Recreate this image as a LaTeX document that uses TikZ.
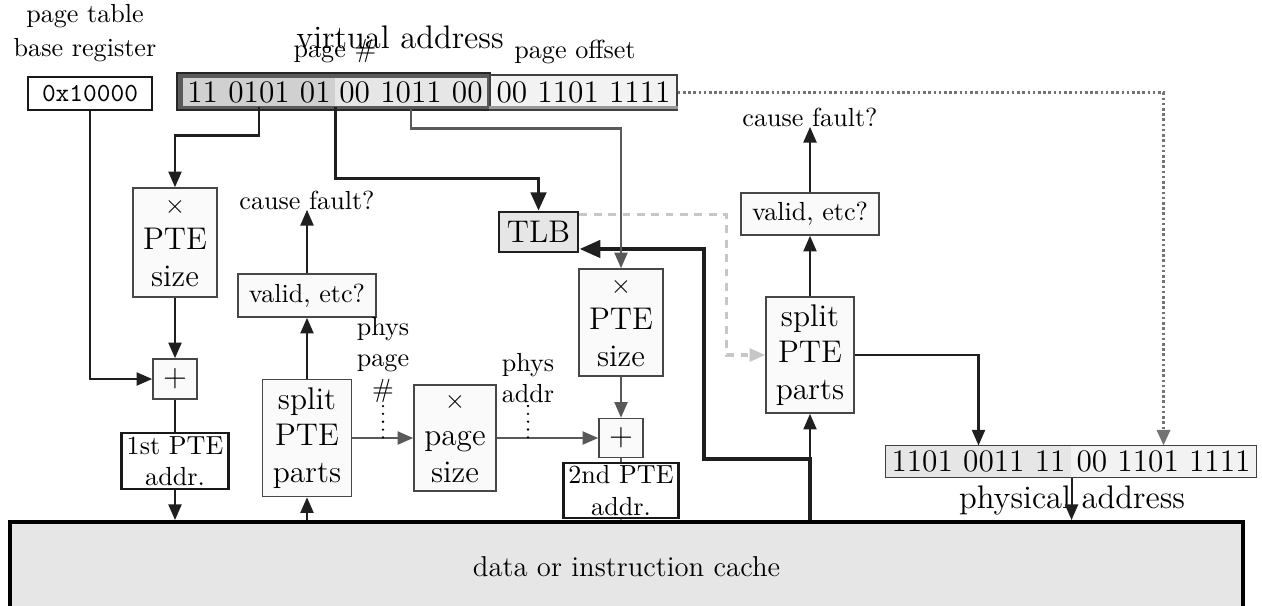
\documentclass[tikz,border=0pt]{standalone}
\usetikzlibrary{arrows.meta,calc}
\newdimen\pxu \pxu=0.383pt
\definecolor{boxfill}{HTML}{FAFAFA}
\definecolor{cachefill}{HTML}{E6E6E6}
\definecolor{segA}{HTML}{D0D0D0}
\definecolor{segB}{HTML}{E6E6E6}
\definecolor{segC}{HTML}{F2F2F2}
\definecolor{pnframe}{HTML}{5A5A5A}
\begin{document}
\begin{tikzpicture}[x=0.383pt,y=-0.383pt,
  sz/.style 2 args={minimum width=#1*\pxu, minimum height=#2*\pxu},
  box/.style={draw=black!72, fill=boxfill, line width=0.6pt, inner sep=0pt, align=center},
  bbox/.style={draw=black!90, fill=white, line width=1.1pt, inner sep=0pt, align=center},
  lbl/.style={inner sep=0pt, align=center},
  tip/.style={-{Triangle[length=6pt,width=5pt]}},
  arr/.style={draw=black!88, line width=0.8pt, tip},
  garr/.style={draw=black!65, line width=0.8pt, tip},
  gline/.style={draw=black!65, line width=0.6pt},
  vatlb/.style={draw=black!88, line width=1.1pt, -{Triangle[length=7pt,width=6pt]}},
  cachetlb/.style={draw=black!88, line width=1.7pt, -{Triangle[length=8pt,width=6.5pt]}},
  dashedarr/.style={draw=black!22, line width=1.2pt, dash pattern=on 3pt off 2.5pt, tip},
  dottedarr/.style={draw=black!55, line width=1.3pt, dash pattern=on 1pt off 1pt, tip},
  dotline/.style={draw=black, line width=1pt, dash pattern=on 0pt off 3pt, line cap=round},
]
\clip (0,0) rectangle (1262,605);

% labels
\node[lbl] (ptbrlbl) at (85,33) {page table\\[1pt]base register};
\node[lbl, font=\fontsize{12.5}{15}\selectfont] (valbl) at (400,37) {virtual address};
\node[lbl] (pnlbl) at (335,51) {page \#};
\node[lbl] (polbl) at (575,52) {page offset};

% registers
\node[bbox, sz={124}{33}, font=\ttfamily] (reg) at (90,93.5) {0x10000};
\node[draw=black!85, fill=pnframe, line width=1.1pt, inner sep=0pt, sz={313}{37}] (pn) at (333.5,91.5) {};
\node[fill=segA, inner sep=0pt, sz={152}{28}, font=\large] (seg1) at (259,92) {11 0101 01};
\node[fill=segB, inner sep=0pt, sz={152}{28}, font=\large] (seg2) at (411,92) {00 1011 00};
\node[draw=black!75, fill=segC, line width=0.5pt, inner sep=0pt, sz={187}{35}, font=\large] (pgoff) at (583.5,92.5) {00 1101 1111};
\draw[black!40, line width=0.8pt] ([yshift=1.2pt]pgoff.south west) -- ([yshift=1.2pt]pgoff.south east);

% cache
\node[draw=black, fill=cachefill, line width=1.5pt, inner sep=0pt, sz={1233}{90}, font=\fontsize{11}{13}\selectfont] (cache) at (626.5,567) {data or instruction cache};

% first level
\node[box, sz={84}{109}, font=\large] (pte1) at (175,242.5) {{\normalsize$\times$}\\PTE\\size};
\node[box, sz={44}{40}, font=\large] (plus1) at (175,379) {$+$};
\node[bbox, sz={107}{56}] (first) at (175,461) {1st PTE\\addr.};
\node[lbl] (cf1) at (307,200) {cause fault?};
\node[box, sz={138}{43}] (valid1) at (307,295.5) {valid, etc?};
\node[box, sz={89}{117}, font=\large] (split1) at (307,438) {split\\PTE\\parts};
\node[lbl] (ppn) at (383,360) {phys\\page\\\#};
\node[box, sz={82}{106}, font=\large] (pagesz) at (455,438) {{\normalsize$\times$}\\page\\size};
\node[lbl] (pa) at (528,378) {phys\\addr};

% second level
\node[box, sz={84}{107}, font=\large] (pte2) at (621,322.5) {{\normalsize$\times$}\\PTE\\size};
\node[box, sz={44}{39}, font=\large] (plus2) at (621,438) {$+$};
\node[bbox, sz={115}{55}] (second) at (621,490.5) {2nd PTE\\addr.};
\node[draw=black!88, fill=cachefill, line width=1.1pt, inner sep=0pt, sz={79}{40}, font=\large] (tlb) at (538.5,232) {TLB};

\node[lbl] (cf2) at (810,117) {cause fault?};
\node[box, sz={138}{42}] (valid2) at (810,214) {valid, etc?};
\node[box, sz={88}{116}, font=\large] (split2) at (810,355) {split\\PTE\\parts};

% physical address
\node[fill=segB, inner sep=0pt, sz={185}{31}, font=\large] (physL) at (978.5,461.5) {1101 0011 11};
\node[fill=segC, inner sep=0pt, sz={185}{31}, font=\large] (physR) at (1163.5,461.5) {00 1101 1111};
\draw[black!75, line width=0.6pt] (physL.north west) rectangle (physR.south east);
\node[lbl, font=\fontsize{12.5}{15}\selectfont] (phlbl) at (1072,500) {physical address};

% connectors
\draw[cachetlb] (split2.south |- cache.north) -- ++(0,-61) -- ++(-106,0) |- ([yshift=-6.5pt]tlb.east);
\draw[vatlb] (seg1.south east) -- ++(0,72) -| (tlb.north);
\draw[arr] (seg1.south) -- ++(0,29) -| (pte1.north);
\draw[garr] (seg2.south) -- ++(0,22) -| (pte2.north);
\draw[arr] (reg.south) |- (plus1.west);
\draw[arr] (pte1.south) -- (plus1.north);
\draw[draw=black!88, line width=0.8pt] (plus1.south) -- (first.north);
\draw[arr] (first.south) -- (first.south |- cache.north);
\draw[arr] (split1.south |- cache.north) -- (split1.south);
\draw[arr] (split1.north) -- (valid1.south);
\draw[arr] (valid1.north) -- (valid1.north |- cf1.south);
\draw[garr] (split1.east) -- (pagesz.west);
\draw[garr] (pagesz.east) -- (plus2.west);
\draw[garr] (pte2.south) -- (plus2.north);
\draw[gline] (plus2.south) -- (second.north);
\draw[gline, draw=black!40] (second.south) -- (second.south |- cache.north);
\draw[dotline] ([yshift=-1pt]ppn.south) -- (ppn.south |- split1.east);
\draw[dotline] ([yshift=-1pt]pa.south) -- (pa.south |- pagesz.east);
\draw[arr] (split2.south |- cache.north) -- (split2.south);
\draw[arr] (split2.north) -- (valid2.south);
\draw[arr] (valid2.north) -- (valid2.north |- cf2.south);
\draw[dashedarr] ([yshift=-1.5pt]tlb.north east) -- ++(147,0) |- (split2.west);
\draw[arr] (split2.east) -| (physL.north);
\draw[dottedarr] (pgoff.east) -| (physR.north);
\draw[arr] (physL.south east) -- (physL.south east |- cache.north);
\end{tikzpicture}
\end{document}
